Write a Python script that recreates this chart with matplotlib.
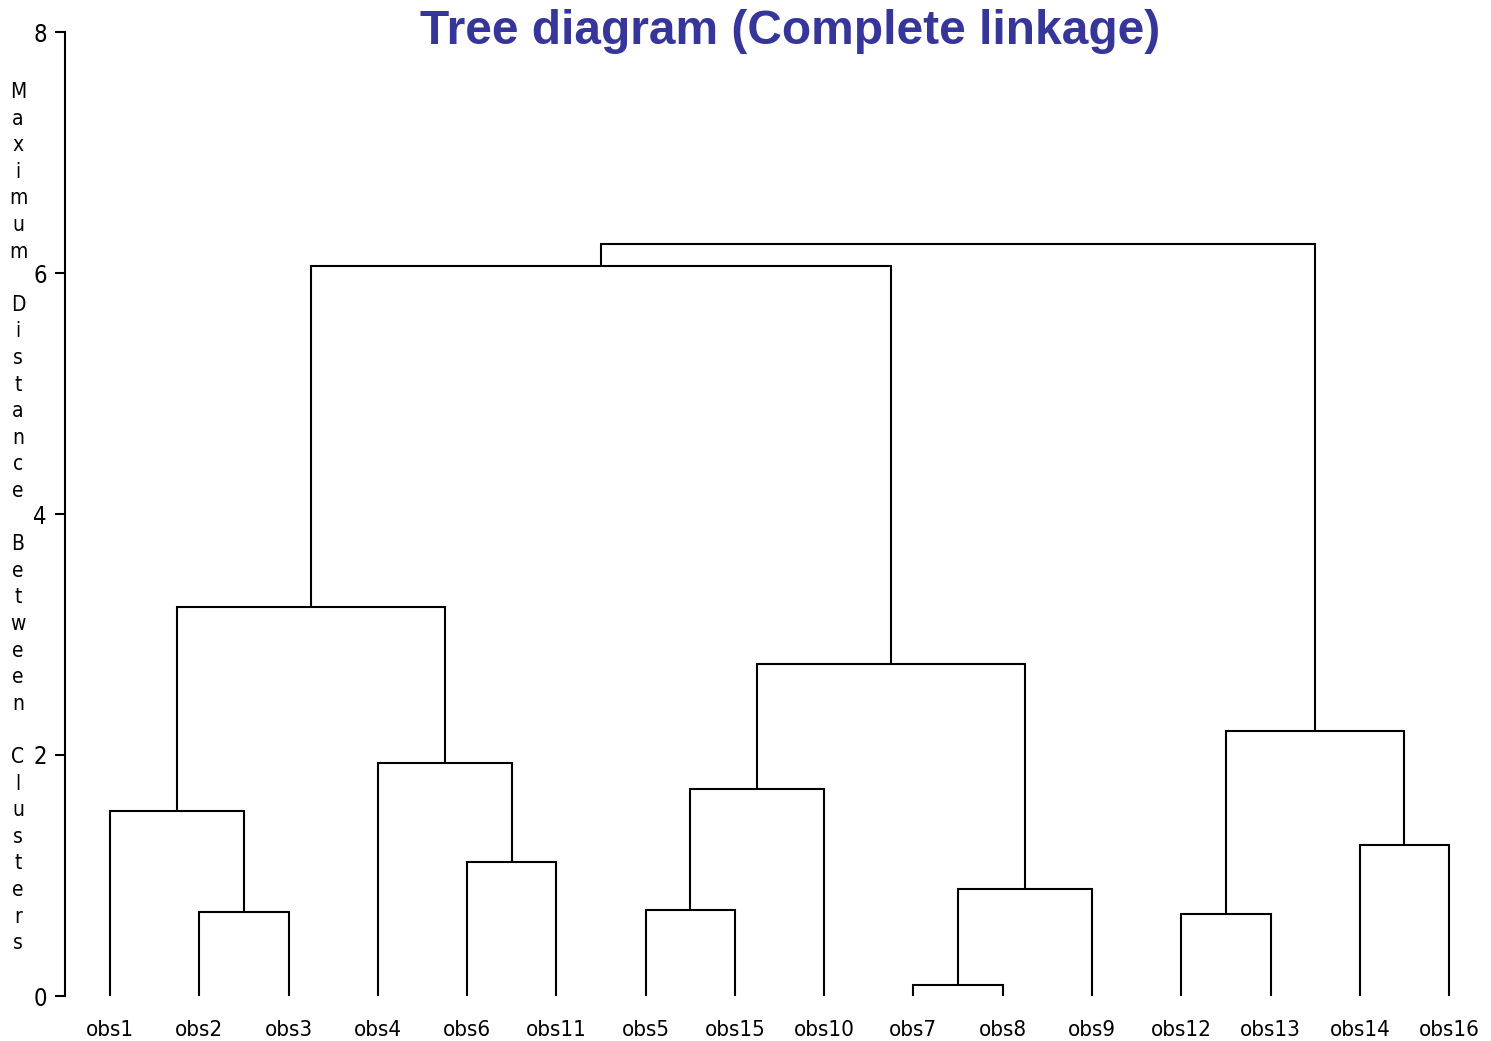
import matplotlib
matplotlib.use('Agg')
import matplotlib.pyplot as plt

# leaves in the order they appear on the tree
leaf_labels = ['obs1', 'obs2', 'obs3', 'obs4', 'obs6', 'obs11', 'obs5', 'obs15',
               'obs10', 'obs7', 'obs8', 'obs9', 'obs12', 'obs13', 'obs14', 'obs16']

# merges: (left cluster, right cluster), new cluster ids start at 16
merge_left = [1, 0, 4, 3, 17, 6, 21, 9, 23, 22, 20, 12, 14, 27, 26]
merge_right = [2, 16, 5, 18, 19, 7, 8, 10, 11, 24, 25, 13, 15, 28, 29]
merge_height = [0.70, 1.535, 1.11, 1.93, 3.23, 0.71, 1.72, 0.09, 0.89, 2.755,
                6.06, 0.68, 1.25, 2.20, 6.24]

y_ticks = [0, 2, 4, 6, 8]
y_label = 'Maximum Distance Between Clusters'

W, H = 1491, 1041
fig = plt.figure(figsize=(W / 100, H / 100), dpi=100)
ax = fig.add_axes([65 / W, 1 - 996 / H, 1 - 65 / W, (996 - 32) / H])

pixfont = dict(family='DejaVu Sans', stretch='condensed')

# node positions
pos_x = {i: float(i) for i in range(len(leaf_labels))}
pos_y = {i: 0.0 for i in range(len(leaf_labels))}
n = len(leaf_labels)
for k, (a, b, h) in enumerate(zip(merge_left, merge_right, merge_height)):
    xa, ya = pos_x[a], pos_y[a]
    xb, yb = pos_x[b], pos_y[b]
    ax.plot([xa, xa, xb, xb], [ya, h, h, yb], color='black', lw=1.5,
            solid_joinstyle='miter', solid_capstyle='butt')
    pos_x[n + k] = (xa + xb) / 2
    pos_y[n + k] = h

ax.set_xlim(-0.504, 15.47)
ax.set_ylim(0, 8)
for s in ['top', 'right', 'bottom']:
    ax.spines[s].set_visible(False)
ax.spines['left'].set_linewidth(1.5)

ax.set_yticks(y_ticks)
ax.set_yticklabels([str(t) for t in y_ticks], fontsize=17, **pixfont)
ax.tick_params(axis='y', length=7, width=1.5, pad=6)

ax.set_xticks(range(len(leaf_labels)))
ax.set_xticklabels(leaf_labels, fontsize=16, **pixfont)
ax.tick_params(axis='x', length=0, pad=17)

# stacked y label letters
for i, ch in enumerate(y_label):
    fig.text(18 / W, 1 - (92 + 26.6 * i) / H, ch, ha='center', va='center',
             fontsize=15, **pixfont)

fig.text(790 / W, 1 - 31 / H, 'Tree diagram (Complete linkage)', ha='center',
         va='center', fontsize=34.5, fontweight='bold', color='#35359a',
         family=['Liberation Sans', 'DejaVu Sans'])

plt.savefig('out.png', dpi=100)
